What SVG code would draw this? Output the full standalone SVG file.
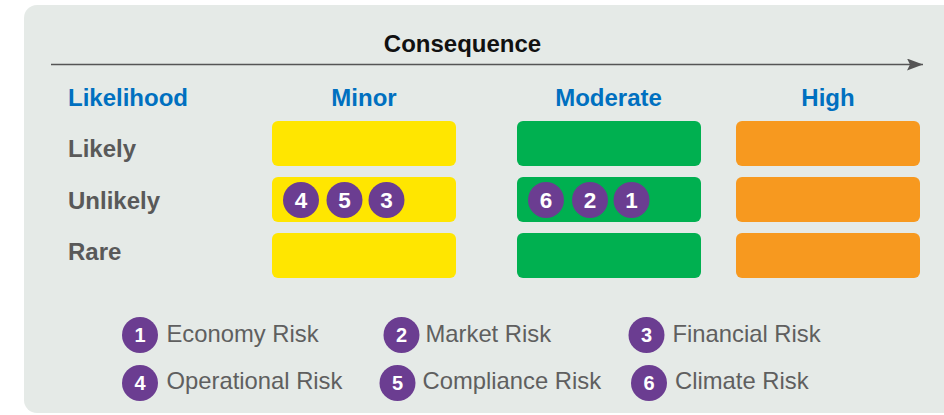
<svg xmlns="http://www.w3.org/2000/svg" width="944" height="415" viewBox="0 0 944 415">
<style>
text{font-family:"Liberation Sans",Arial,sans-serif}
.h{font-size:24px;font-weight:bold;fill:#0070C0}
.r{font-size:24px;font-weight:bold;fill:#595959}
.t{font-size:23.8px;fill:#5F5F5F}
.n{font-size:22.5px;font-weight:bold;fill:#FFFFFF;text-anchor:middle}
.m{font-size:20px;font-weight:bold;fill:#FFFFFF;text-anchor:middle}
.y{fill:#FFE600}.g{fill:#00B050}.o{fill:#F7991F}
.c{fill:#6B3D91}
</style>
<defs>
<marker id="ah" markerWidth="16" markerHeight="12" refX="16" refY="6" orient="auto" markerUnits="userSpaceOnUse">
<path d="M0,0 L16,6 L0,12 L3,6 Z" fill="#555555"/>
</marker>
</defs>
<rect x="0" y="0" width="944" height="415" fill="#FFFFFF"/>
<rect x="24" y="5" width="940" height="408" rx="13" fill="#E5EAE7"/>
<g id="connectors">
<line x1="51" y1="64.5" x2="923" y2="64.5" stroke="#555555" stroke-width="1.5" marker-end="url(#ah)"/>
</g>
<g id="headers">
<text x="462.5" y="52" text-anchor="middle" style="font-size:24px;font-weight:bold;fill:#111111">Consequence</text>
<text x="68" y="106" class="h">Likelihood</text>
<text x="364" y="106" class="h" text-anchor="middle">Minor</text>
<text x="608.5" y="106" class="h" text-anchor="middle">Moderate</text>
<text x="828" y="106" class="h" text-anchor="middle">High</text>
<text x="68" y="157" class="r">Likely</text>
<text x="68" y="209" class="r">Unlikely</text>
<text x="68" y="260" class="r">Rare</text>
</g>
<g id="minor">
<rect x="272" y="121" width="184" height="45" rx="6" class="y"/>
<rect x="272" y="177" width="184" height="45" rx="6" class="y"/>
<rect x="272" y="233" width="184" height="45" rx="6" class="y"/>
</g>
<g id="moderate">
<rect x="517" y="121" width="184" height="45" rx="6" class="g"/>
<rect x="517" y="177" width="184" height="45" rx="6" class="g"/>
<rect x="517" y="233" width="184" height="45" rx="6" class="g"/>
</g>
<g id="high">
<rect x="736" y="121" width="184" height="45" rx="6" class="o"/>
<rect x="736" y="177" width="184" height="45" rx="6" class="o"/>
<rect x="736" y="233" width="184" height="45" rx="6" class="o"/>
</g>
<g id="markers">
<circle cx="301" cy="200" r="18" class="c"/><text x="301" y="208" class="n">4</text>
<circle cx="344.5" cy="200" r="18" class="c"/><text x="344.5" y="208" class="n">5</text>
<circle cx="386.5" cy="200" r="18" class="c"/><text x="386.5" y="208" class="n">3</text>
<circle cx="546" cy="200" r="18" class="c"/><text x="546" y="208" class="n">6</text>
<circle cx="590" cy="200" r="18" class="c"/><text x="590" y="208" class="n">2</text>
<circle cx="631.5" cy="200" r="18" class="c"/><text x="631.5" y="208" class="n">1</text>
</g>
<g id="legend">
<circle cx="140" cy="335" r="18" class="c"/><text x="140" y="342.3" class="m">1</text><text x="166.5" y="341.5" class="t">Economy Risk</text>
<circle cx="401.5" cy="335" r="18" class="c"/><text x="401.5" y="342.3" class="m">2</text><text x="425.5" y="341.5" class="t">Market Risk</text>
<circle cx="646.5" cy="335" r="18" class="c"/><text x="646.5" y="342.3" class="m">3</text><text x="672.5" y="341.5" class="t">Financial Risk</text>
<circle cx="140" cy="383" r="18" class="c"/><text x="140" y="390.3" class="m">4</text><text x="166.5" y="389" class="t">Operational Risk</text>
<circle cx="397.5" cy="383" r="18" class="c"/><text x="397.5" y="390.3" class="m">5</text><text x="422.5" y="389" class="t">Compliance Risk</text>
<circle cx="649" cy="383" r="18" class="c"/><text x="649" y="390.3" class="m">6</text><text x="675" y="389" class="t">Climate Risk</text>
</g>
</svg>
